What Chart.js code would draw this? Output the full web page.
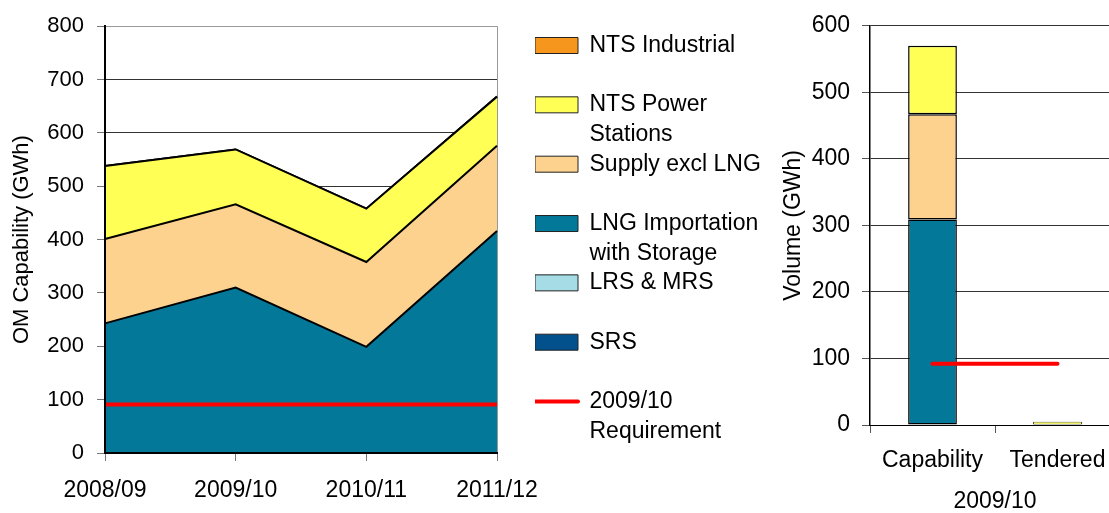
<!DOCTYPE html>
<html>
<head>
<meta charset="utf-8">
<script src="https://cdn.jsdelivr.net/npm/chart.js@4.4.1/dist/chart.umd.min.js"></script>
<style>
  html, body { margin: 0; padding: 0; background: #fff; overflow: hidden; }
  body { width: 1109px; height: 513px; position: relative; }
  #areaChart { position: absolute; left: 0; top: 0; }
  #barChart { position: absolute; left: 760px; top: 0; }
</style>
</head>
<body>
<canvas id="areaChart" width="800" height="513"></canvas>
<canvas id="barChart" width="360" height="513"></canvas>
<script>
// left chart: OM capability by year (GWh)
var years = ['2008/09', '2009/10', '2010/11', '2011/12'];
var srs = [0, 0, 0, 0];
var lrsMrs = [0, 0, 0, 0];
var lngStorage = [243, 310, 199, 416];
var supplyExclLng = [158, 156, 159, 160];
var ntsPower = [137, 103, 100, 92];
var ntsIndustrial = [0, 0, 0, 0];
var requirement = [91, 91, 91, 91];

// right chart: 2009/10 volume (GWh)
var volCats = ['Capability', 'Tendered'];
var volSrs = [0, 0];
var volLrsMrs = [0, 0];
var volLng = [309, 0];
var volSupply = [158, 0];
var volPower = [103, 5];
var volIndustrial = [0, 0];
var volReq = [92, 92];

var colors = {
    industrial: '#F7961D',
    power: '#FFFF55',
    supply: '#FDD18E',
    lng: '#037899',
    lrs: '#A5DCE6',
    srs: '#02518D',
    req: '#FF0000'
};

Chart.defaults.font.family = "'Liberation Sans', Arial, sans-serif";
Chart.defaults.font.size = 22;
Chart.defaults.color = '#000';

function area(label, data, color, fill) {
    return {
        label: label,
        data: data,
        backgroundColor: color,
        borderColor: '#000',
        borderWidth: 2,
        pointRadius: 0,
        tension: 0,
        fill: fill
    };
}

function bar(label, data, color) {
    return {
        label: label,
        data: data,
        backgroundColor: color,
        borderColor: '#000',
        // thin outline on the tiny tendered bar so its fill still shows
        borderWidth: function(ctx) { return ctx.raw < 20 ? 0.8 : 1.5; },
        borderSkipped: false,
        barPercentage: 0.39,
        categoryPercentage: 1
    };
}

var legendOrder = [6, 5, 4, 3, 2, 1, 0];

new Chart(document.getElementById('areaChart'), {
    type: 'line',
    data: {
        labels: years,
        datasets: [
            {
                label: '2009/10\nRequirement',
                data: requirement,
                borderColor: colors.req,
                backgroundColor: colors.req,
                borderWidth: 4,
                pointRadius: 0,
                fill: false,
                stack: 'req'
            },
            area('SRS', srs, colors.srs, 'origin'),
            area('LRS & MRS', lrsMrs, colors.lrs, '-1'),
            area('LNG Importation\nwith Storage', lngStorage, colors.lng, '-1'),
            area('Supply excl LNG', supplyExclLng, colors.supply, '-1'),
            area('NTS Power\nStations', ntsPower, colors.power, '-1'),
            area('NTS Industrial', ntsIndustrial, colors.industrial, '-1')
        ]
    },
    options: {
        responsive: false,
        animation: false,
        layout: { padding: { top: 26, right: 33, bottom: 0, left: 0 } },
        plugins: {
            tooltip: { enabled: false },
            legend: {
                position: 'right',
                align: 'start',
                maxWidth: 232,
                title: { display: true, text: '', padding: 0, font: { size: 8, lineHeight: 1 } },
                labels: {
                    usePointStyle: true,
                    pointStyleWidth: 43,
                    boxHeight: 16,
                    padding: 0,
                    font: { size: 23, lineHeight: 1.29 },
                    generateLabels: function(chart) {
                        return legendOrder.map(function(i) {
                            var ds = chart.data.datasets[i];
                            var lines = ds.label.split('\n');
                            if (lines.length < 2) lines.push('');
                            var isLine = i === 0;
                            return {
                                text: lines,
                                fillStyle: ds.backgroundColor,
                                strokeStyle: isLine ? ds.borderColor : '#222',
                                lineWidth: isLine ? 4 : 1,
                                lineCap: isLine ? 'round' : 'butt',
                                pointStyle: isLine ? 'line' : 'rect',
                                hidden: false,
                                datasetIndex: i
                            };
                        });
                    }
                }
            }
        },
        scales: {
            x: {
                grid: {
                    color: function(ctx) { return ctx.index === years.length - 1 ? '#999' : 'rgba(0,0,0,0)'; },
                    tickColor: '#777',
                    tickLength: 8
                },
                border: { color: '#000', width: 2, z: 1 },
                ticks: { padding: 16, font: { size: 23 } },
                afterFit: function(s) { s.height = 60; }
            },
            y: {
                stacked: true,
                min: 0,
                max: 800,
                ticks: { stepSize: 100, padding: 13 },
                grid: {
                    color: function(ctx) { return ctx.tick && ctx.tick.value === 800 ? '#999' : '#333'; },
                    tickColor: '#777',
                    tickLength: 8
                },
                border: { color: '#000', width: 2, z: 1 },
                title: { display: true, text: 'OM Capability (GWh)', padding: { top: 9, bottom: 0 } },
                afterFit: function(s) { s.width = 105; }
            },
            gap: {
                type: 'linear',
                position: 'right',
                grid: { display: false },
                border: { display: false },
                ticks: { display: false },
                afterFit: function(s) { s.width = 38; }
            }
        }
    }
});

new Chart(document.getElementById('barChart'), {
    type: 'bar',
    data: {
        labels: volCats,
        datasets: [
            {
                type: 'line',
                label: '2009/10 Requirement',
                data: volReq,
                borderColor: colors.req,
                borderWidth: 4,
                borderCapStyle: 'round',
                pointRadius: 0,
                fill: false,
                stack: 'req'
            },
            bar('SRS', volSrs, colors.srs),
            bar('LRS & MRS', volLrsMrs, colors.lrs),
            bar('LNG Importation with Storage', volLng, colors.lng),
            bar('Supply excl LNG', volSupply, colors.supply),
            bar('NTS Power Stations', volPower, colors.power),
            bar('NTS Industrial', volIndustrial, colors.industrial)
        ]
    },
    options: {
        responsive: false,
        animation: false,
        layout: { padding: { top: 20, right: 0, bottom: 0, left: 0 } },
        plugins: {
            tooltip: { enabled: false },
            legend: { display: false }
        },
        scales: {
            x: {
                stacked: true,
                grid: { drawOnChartArea: false, tickLength: 8, tickColor: '#555' },
                border: { color: '#000', width: 1 },
                ticks: { padding: 14, font: { size: 23 } },
                title: { display: true, text: '2009/10', padding: { top: 0, bottom: -2 }, font: { size: 23 } },
                afterFit: function(s) { s.height = 88; }
            },
            y: {
                stacked: true,
                min: 0,
                max: 600,
                ticks: { stepSize: 100, padding: 12, font: { size: 23 } },
                grid: { color: '#333', tickColor: '#555', tickLength: 8 },
                border: { color: '#000', width: 1.5 },
                title: { display: true, text: 'Volume (GWh)', padding: { top: 20, bottom: 0 }, font: { size: 23 } },
                afterFit: function(s) { s.width = 110; }
            }
        }
    }
});
</script>
</body>
</html>
